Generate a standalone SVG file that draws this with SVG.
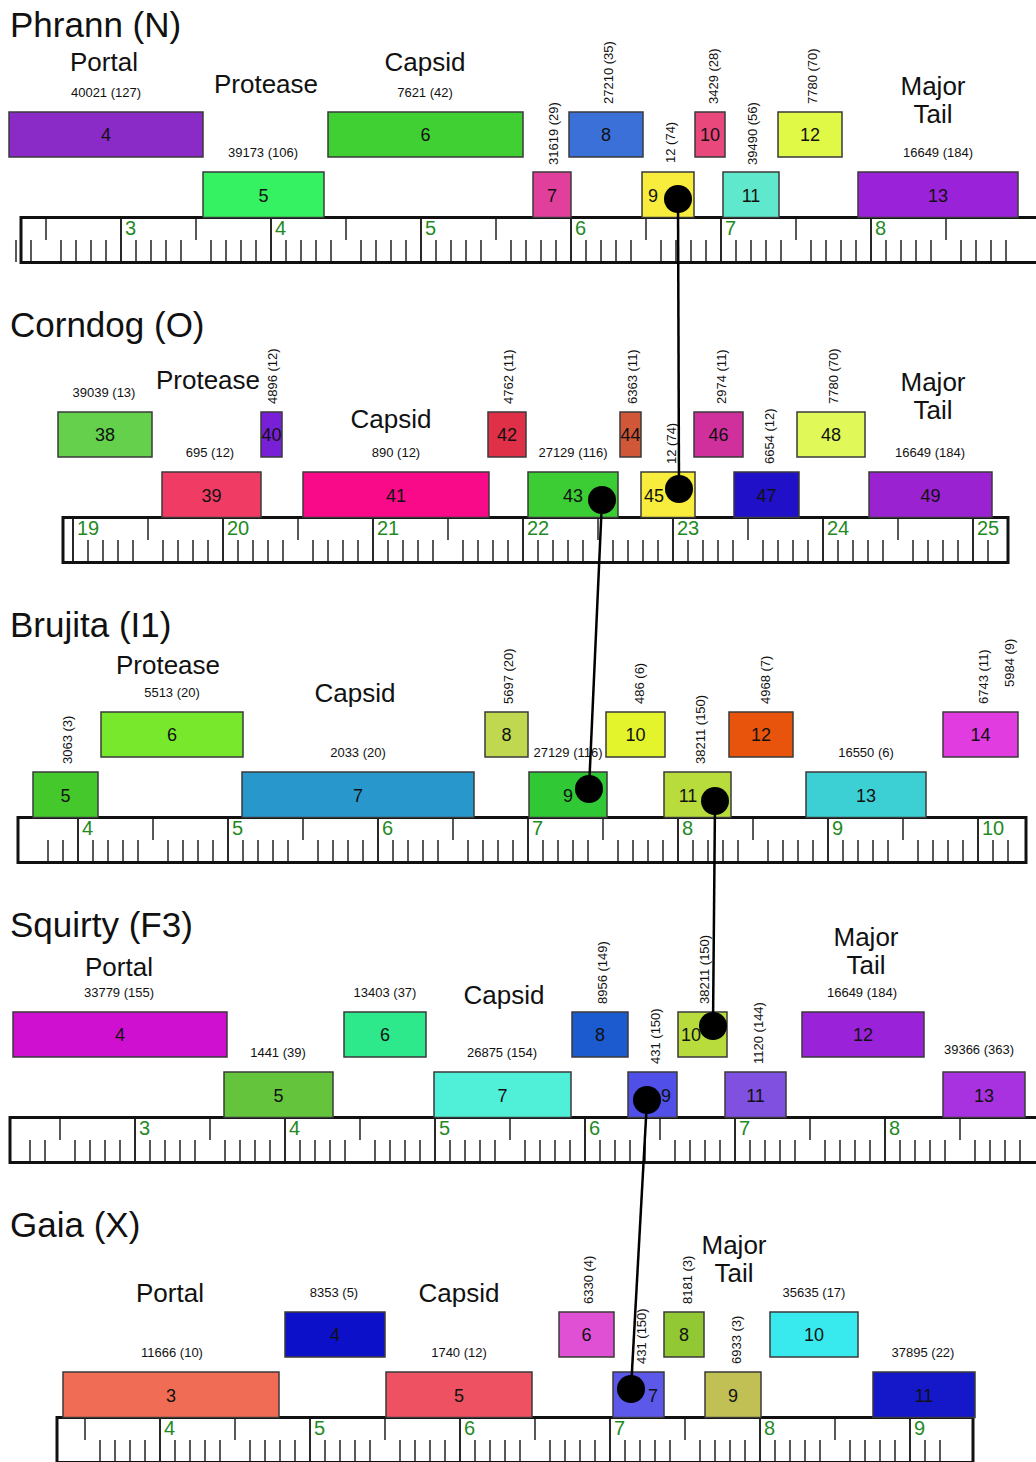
<svg xmlns="http://www.w3.org/2000/svg" width="1036" height="1462" viewBox="0 0 1036 1462">
<style>
text{font-family:"Liberation Sans",Arial,sans-serif;fill:#111}
.t{font-size:35px}
.c{font-size:26px;text-anchor:middle}
.s{font-size:13px;text-anchor:middle}
.r{font-size:13px}
.n{font-size:18px;text-anchor:middle}
.g{font-size:20px;fill:#1f8a1f}
.b rect{stroke:#3a3a3a;stroke-width:1.5}
.fr{fill:none;stroke:#111;stroke-width:3}
.mj{stroke:#111;stroke-width:1.8}
.mn{stroke:#222;stroke-width:22;stroke-dasharray:1.5 13.5 1.5 13.5 1.5 13.5 1.5 28.5 1.5 13.5 1.5 13.5 1.5 13.5 1.5 28.5;fill:none}
.hf{stroke:#222;stroke-width:22.5;stroke-dasharray:1.5 148.5;fill:none}
.cn{stroke:#000;stroke-width:2.5;fill:none}
</style>
<rect width="1036" height="1462" fill="#fff"/>

<!-- Panel 1: Phrann -->
<g id="phrann">
<text class="t" x="10" y="37">Phrann (N)</text>
<text class="c" x="104" y="71">Portal</text>
<text class="c" x="266" y="93">Protease</text>
<text class="c" x="425" y="71">Capsid</text>
<text class="c" x="933" y="95">Major<tspan x="933" dy="28">Tail</tspan></text>
<g id="phrann-ruler">
<path class="mn" d="M15.25 251H1008" stroke-dashoffset="30"/>
<path class="hf" d="M45.25 228.75H1000"/>
<path class="mj" d="M121 217.5V262.5M271 217.5V262.5M421 217.5V262.5M571 217.5V262.5M721 217.5V262.5M871 217.5V262.5"/>
<rect class="fr" x="21" y="217.5" width="1030" height="45"/>
<text class="g" x="125" y="235">3</text><text class="g" x="275" y="235">4</text><text class="g" x="425" y="235">5</text><text class="g" x="575" y="235">6</text><text class="g" x="725" y="235">7</text><text class="g" x="875" y="235">8</text>
</g>
<g id="phrann-4" class="b"><rect x="9" y="112" width="194" height="45" fill="#8a2bc8"/><text class="n" x="106" y="141">4</text><text class="s" x="106" y="97">40021 (127)</text></g>
<g id="phrann-5" class="b"><rect x="203" y="172" width="121" height="45.5" fill="#35f262"/><text class="n" x="263.5" y="201.5">5</text><text class="s" x="263" y="157">39173 (106)</text></g>
<g id="phrann-6" class="b"><rect x="328" y="112" width="195" height="45" fill="#40d034"/><text class="n" x="425.5" y="141">6</text><text class="s" x="425" y="97">7621 (42)</text></g>
<g id="phrann-7" class="b"><rect x="533" y="172" width="38" height="45.5" fill="#e0409c"/><text class="n" x="552" y="201.5">7</text><text class="r" transform="translate(558 165) rotate(-90)">31619 (29)</text></g>
<g id="phrann-8" class="b"><rect x="569" y="112" width="74" height="45" fill="#3a70d8"/><text class="n" x="606" y="141">8</text><text class="r" transform="translate(613 104) rotate(-90)">27210 (35)</text></g>
<g id="phrann-9" class="b"><rect x="642" y="172" width="52" height="45.5" fill="#f8ec3c"/><text class="n" x="653" y="201.5">9</text><text class="r" transform="translate(675 163) rotate(-90)">12 (74)</text></g>
<g id="phrann-10" class="b"><rect x="695" y="112" width="30" height="45" fill="#e8487c"/><text class="n" x="710" y="141">10</text><text class="r" transform="translate(718 104) rotate(-90)">3429 (28)</text></g>
<g id="phrann-11" class="b"><rect x="723" y="172" width="56" height="45.5" fill="#60e8cc"/><text class="n" x="751" y="201.5">11</text><text class="r" transform="translate(757 165) rotate(-90)">39490 (56)</text></g>
<g id="phrann-12" class="b"><rect x="778" y="112" width="64" height="45" fill="#e0f846"/><text class="n" x="810" y="141">12</text><text class="r" transform="translate(817 104) rotate(-90)">7780 (70)</text></g>
<g id="phrann-13" class="b"><rect x="858" y="172" width="160" height="45.5" fill="#9a22d8"/><text class="n" x="938" y="201.5">13</text><text class="s" x="938" y="157">16649 (184)</text></g>
</g>

<!-- Panel 2: Corndog -->
<g id="corndog" transform="translate(0 300)">
<text class="t" x="10" y="37">Corndog (O)</text>
<text class="c" x="208" y="89">Protease</text>
<text class="c" x="391" y="128">Capsid</text>
<text class="c" x="933" y="91">Major<tspan x="933" dy="28">Tail</tspan></text>
<g id="corndog-ruler">
<path class="mn" d="M87.25 251H990"/>
<path class="hf" d="M147.25 228.75H900"/>
<path class="mj" d="M73 217.5V262.5M223 217.5V262.5M373 217.5V262.5M523 217.5V262.5M673 217.5V262.5M823 217.5V262.5M973 217.5V262.5"/>
<rect class="fr" x="63" y="217.5" width="945" height="45"/>
<text class="g" x="77" y="235">19</text><text class="g" x="227" y="235">20</text><text class="g" x="377" y="235">21</text><text class="g" x="527" y="235">22</text><text class="g" x="677" y="235">23</text><text class="g" x="827" y="235">24</text><text class="g" x="977" y="235">25</text>
</g>
<g id="corndog-38" class="b"><rect x="58" y="112" width="94" height="45" fill="#64d04c"/><text class="n" x="105" y="141">38</text><text class="s" x="104" y="97">39039 (13)</text></g>
<g id="corndog-39" class="b"><rect x="162" y="172" width="99" height="45.5" fill="#f03c64"/><text class="n" x="211.5" y="201.5">39</text><text class="s" x="210" y="157">695 (12)</text></g>
<g id="corndog-40" class="b"><rect x="261" y="112" width="21" height="45" fill="#7820d8"/><text class="n" x="271.5" y="141">40</text><text class="r" transform="translate(277 104) rotate(-90)">4896 (12)</text></g>
<g id="corndog-41" class="b"><rect x="303" y="172" width="186" height="45.5" fill="#f80a88"/><text class="n" x="396" y="201.5">41</text><text class="s" x="396" y="157">890 (12)</text></g>
<g id="corndog-42" class="b"><rect x="488" y="112" width="38" height="45" fill="#e03048"/><text class="n" x="507" y="141">42</text><text class="r" transform="translate(513 104) rotate(-90)">4762 (11)</text></g>
<g id="corndog-43" class="b"><rect x="528" y="172" width="90" height="45.5" fill="#3ccc34"/><text class="n" x="573" y="201.5">43</text><text class="s" x="573" y="157">27129 (116)</text></g>
<g id="corndog-44" class="b"><rect x="620" y="112" width="21" height="45" fill="#d05838"/><text class="n" x="630.5" y="141">44</text><text class="r" transform="translate(637 104) rotate(-90)">6363 (11)</text></g>
<g id="corndog-45" class="b"><rect x="641" y="172" width="54" height="45.5" fill="#f8ec3c"/><text class="n" x="654" y="201.5">45</text><text class="r" transform="translate(676 164) rotate(-90)">12 (74)</text></g>
<g id="corndog-46" class="b"><rect x="694" y="112" width="49" height="45" fill="#d0309c"/><text class="n" x="718.5" y="141">46</text><text class="r" transform="translate(726 104) rotate(-90)">2974 (11)</text></g>
<g id="corndog-47" class="b"><rect x="734" y="172" width="65" height="45.5" fill="#2010c8"/><text class="n" x="766.5" y="201.5">47</text><text class="r" transform="translate(774 164) rotate(-90)">6654 (12)</text></g>
<g id="corndog-48" class="b"><rect x="797" y="112" width="68" height="45" fill="#e0f858"/><text class="n" x="831" y="141">48</text><text class="r" transform="translate(838 104) rotate(-90)">7780 (70)</text></g>
<g id="corndog-49" class="b"><rect x="869" y="172" width="123" height="45.5" fill="#9a22d0"/><text class="n" x="930.5" y="201.5">49</text><text class="s" x="930" y="157">16649 (184)</text></g>
</g>

<!-- Panel 3: Brujita -->
<g id="brujita" transform="translate(0 600)">
<text class="t" x="10" y="37">Brujita (I1)</text>
<text class="c" x="168" y="74">Protease</text>
<text class="c" x="355" y="102">Capsid</text>
<g id="brujita-ruler">
<path class="mn" d="M47.25 251H1010" stroke-dashoffset="105"/>
<path class="hf" d="M152.25 228.75H905"/>
<path class="mj" d="M78 217.5V262.5M228 217.5V262.5M378 217.5V262.5M528 217.5V262.5M678 217.5V262.5M828 217.5V262.5M978 217.5V262.5"/>
<rect class="fr" x="18" y="217.5" width="1008" height="45"/>
<text class="g" x="82" y="235">4</text><text class="g" x="232" y="235">5</text><text class="g" x="382" y="235">6</text><text class="g" x="532" y="235">7</text><text class="g" x="682" y="235">8</text><text class="g" x="832" y="235">9</text><text class="g" x="982" y="235">10</text>
</g>
<g id="brujita-5" class="b"><rect x="33" y="172" width="65" height="45.5" fill="#44c82c"/><text class="n" x="65.5" y="201.5">5</text><text class="r" transform="translate(72 164) rotate(-90)">3063 (3)</text></g>
<g id="brujita-6" class="b"><rect x="101" y="112" width="142" height="45" fill="#78e82c"/><text class="n" x="172" y="141">6</text><text class="s" x="172" y="97">5513 (20)</text></g>
<g id="brujita-7" class="b"><rect x="242" y="172" width="232" height="45.5" fill="#2898cc"/><text class="n" x="358" y="201.5">7</text><text class="s" x="358" y="157">2033 (20)</text></g>
<g id="brujita-8" class="b"><rect x="485" y="112" width="43" height="45" fill="#c0d850"/><text class="n" x="506.5" y="141">8</text><text class="r" transform="translate(513 104) rotate(-90)">5697 (20)</text></g>
<g id="brujita-9" class="b"><rect x="529" y="172" width="78" height="45.5" fill="#30c834"/><text class="n" x="568" y="201.5">9</text><text class="s" x="568" y="157">27129 (116)</text></g>
<g id="brujita-10" class="b"><rect x="606" y="112" width="59" height="45" fill="#e4f42c"/><text class="n" x="635.5" y="141">10</text><text class="r" transform="translate(644 104) rotate(-90)">486 (6)</text></g>
<g id="brujita-11" class="b"><rect x="664" y="172" width="67" height="45.5" fill="#b8dc3c"/><text class="n" x="688" y="201.5">11</text><text class="r" transform="translate(705 164) rotate(-90)">38211 (150)</text></g>
<g id="brujita-12" class="b"><rect x="729" y="112" width="64" height="45" fill="#e8540c"/><text class="n" x="761" y="141">12</text><text class="r" transform="translate(770 104) rotate(-90)">4968 (7)</text></g>
<g id="brujita-13" class="b"><rect x="806" y="172" width="120" height="45.5" fill="#3cd0d4"/><text class="n" x="866" y="201.5">13</text><text class="s" x="866" y="157">16550 (6)</text></g>
<g id="brujita-14" class="b"><rect x="943" y="112" width="75" height="45" fill="#e03ce0"/><text class="n" x="980.5" y="141">14</text><text class="r" transform="translate(988 104) rotate(-90)">6743 (11)</text><text class="r" transform="translate(1014 87) rotate(-90)">5984 (9)</text></g>
</g>

<!-- Panel 4: Squirty -->
<g id="squirty" transform="translate(0 900)">
<text class="t" x="10" y="37">Squirty (F3)</text>
<text class="c" x="119" y="76">Portal</text>
<text class="c" x="504" y="104">Capsid</text>
<text class="c" x="866" y="46">Major<tspan x="866" dy="28">Tail</tspan></text>
<g id="squirty-ruler">
<path class="mn" d="M29.25 251H1036" stroke-dashoffset="30"/>
<path class="hf" d="M59.25 228.75H962"/>
<path class="mj" d="M135 217.5V262.5M285 217.5V262.5M435 217.5V262.5M585 217.5V262.5M735 217.5V262.5M885 217.5V262.5"/>
<rect class="fr" x="10" y="217.5" width="1040" height="45"/>
<text class="g" x="139" y="235">3</text><text class="g" x="289" y="235">4</text><text class="g" x="439" y="235">5</text><text class="g" x="589" y="235">6</text><text class="g" x="739" y="235">7</text><text class="g" x="889" y="235">8</text>
</g>
<g id="squirty-4" class="b"><rect x="13" y="112" width="214" height="45" fill="#d010d0"/><text class="n" x="120" y="141">4</text><text class="s" x="119" y="97">33779 (155)</text></g>
<g id="squirty-5" class="b"><rect x="224" y="172" width="109" height="45.5" fill="#64c43c"/><text class="n" x="278.5" y="201.5">5</text><text class="s" x="278" y="157">1441 (39)</text></g>
<g id="squirty-6" class="b"><rect x="344" y="112" width="82" height="45" fill="#2ee88c"/><text class="n" x="385" y="141">6</text><text class="s" x="385" y="97">13403 (37)</text></g>
<g id="squirty-7" class="b"><rect x="434" y="172" width="137" height="45.5" fill="#50f0d8"/><text class="n" x="502.5" y="201.5">7</text><text class="s" x="502" y="157">26875 (154)</text></g>
<g id="squirty-8" class="b"><rect x="572" y="112" width="56" height="45" fill="#1c5ad0"/><text class="n" x="600" y="141">8</text><text class="r" transform="translate(607 104) rotate(-90)">8956 (149)</text></g>
<g id="squirty-9" class="b"><rect x="628" y="172" width="49" height="45.5" fill="#5050e8"/><text class="n" x="666" y="201.5">9</text><text class="r" transform="translate(660 164) rotate(-90)">431 (150)</text></g>
<g id="squirty-10" class="b"><rect x="678" y="112" width="49" height="45" fill="#b8dc3c"/><text class="n" x="691" y="141">10</text><text class="r" transform="translate(709 104) rotate(-90)">38211 (150)</text></g>
<g id="squirty-11" class="b"><rect x="725" y="172" width="61" height="45.5" fill="#8050e0"/><text class="n" x="755.5" y="201.5">11</text><text class="r" transform="translate(763 164) rotate(-90)">1120 (144)</text></g>
<g id="squirty-12" class="b"><rect x="802" y="112" width="122" height="45" fill="#9a22d8"/><text class="n" x="863" y="141">12</text><text class="s" x="862" y="97">16649 (184)</text></g>
<g id="squirty-13" class="b"><rect x="943" y="172" width="82" height="45.5" fill="#a832e0"/><text class="n" x="984" y="201.5">13</text><text class="s" x="979" y="154">39366 (363)</text></g>
</g>

<!-- Panel 5: Gaia -->
<g id="gaia" transform="translate(0 1200)">
<text class="t" x="10" y="37">Gaia (X)</text>
<text class="c" x="170" y="102">Portal</text>
<text class="c" x="459" y="102">Capsid</text>
<text class="c" x="734" y="54">Major<tspan x="734" dy="28">Tail</tspan></text>
<g id="gaia-ruler">
<path class="mn" d="M99.25 251H942" stroke-dashoffset="75"/>
<path class="hf" d="M84.25 228.75H837"/>
<path class="mj" d="M160 217.5V262.5M310 217.5V262.5M460 217.5V262.5M610 217.5V262.5M760 217.5V262.5M910 217.5V262.5"/>
<rect class="fr" x="57" y="217.5" width="916" height="45"/>
<text class="g" x="164" y="235">4</text><text class="g" x="314" y="235">5</text><text class="g" x="464" y="235">6</text><text class="g" x="614" y="235">7</text><text class="g" x="764" y="235">8</text><text class="g" x="914" y="235">9</text>
</g>
<g id="gaia-3" class="b"><rect x="63" y="172" width="216" height="45.5" fill="#f06c54"/><text class="n" x="171" y="201.5">3</text><text class="s" x="172" y="157">11666 (10)</text></g>
<g id="gaia-4" class="b"><rect x="285" y="112" width="100" height="45" fill="#0c10c8"/><text class="n" x="335" y="141">4</text><text class="s" x="334" y="97">8353 (5)</text></g>
<g id="gaia-5" class="b"><rect x="386" y="172" width="146" height="45.5" fill="#ee5262"/><text class="n" x="459" y="201.5">5</text><text class="s" x="459" y="157">1740 (12)</text></g>
<g id="gaia-6" class="b"><rect x="559" y="112" width="55" height="45" fill="#e050d4"/><text class="n" x="586.5" y="141">6</text><text class="r" transform="translate(593 104) rotate(-90)">6330 (4)</text></g>
<g id="gaia-7" class="b"><rect x="613" y="172" width="51" height="45.5" fill="#5c58ea"/><text class="n" x="653" y="201.5">7</text><text class="r" transform="translate(646 164) rotate(-90)">431 (150)</text></g>
<g id="gaia-8" class="b"><rect x="664" y="112" width="40" height="45" fill="#92c834"/><text class="n" x="684" y="141">8</text><text class="r" transform="translate(692 104) rotate(-90)">8181 (3)</text></g>
<g id="gaia-9" class="b"><rect x="705" y="172" width="56" height="45.5" fill="#c0c054"/><text class="n" x="733" y="201.5">9</text><text class="r" transform="translate(741 164) rotate(-90)">6933 (3)</text></g>
<g id="gaia-10" class="b"><rect x="770" y="112" width="88" height="45" fill="#38eaee"/><text class="n" x="814" y="141">10</text><text class="s" x="814" y="97">35635 (17)</text></g>
<g id="gaia-11" class="b"><rect x="873" y="172" width="102" height="45.5" fill="#1418c8"/><text class="n" x="924" y="201.5">11</text><text class="s" x="923" y="157">37895 (22)</text></g>
</g>

<!-- Connectors -->
<g id="connectors">
<path class="cn" d="M678 199L679 489"/>
<path class="cn" d="M602 500L589 789"/>
<path class="cn" d="M715 801L713 1026"/>
<path class="cn" d="M647 1100L631 1389"/>
<circle cx="678" cy="199" r="14"/>
<circle cx="679" cy="489" r="14"/>
<circle cx="602" cy="500" r="14"/>
<circle cx="589" cy="789" r="14"/>
<circle cx="715" cy="801" r="14"/>
<circle cx="713" cy="1026" r="14"/>
<circle cx="647" cy="1100" r="14"/>
<circle cx="631" cy="1389" r="14"/>
</g>
</svg>
